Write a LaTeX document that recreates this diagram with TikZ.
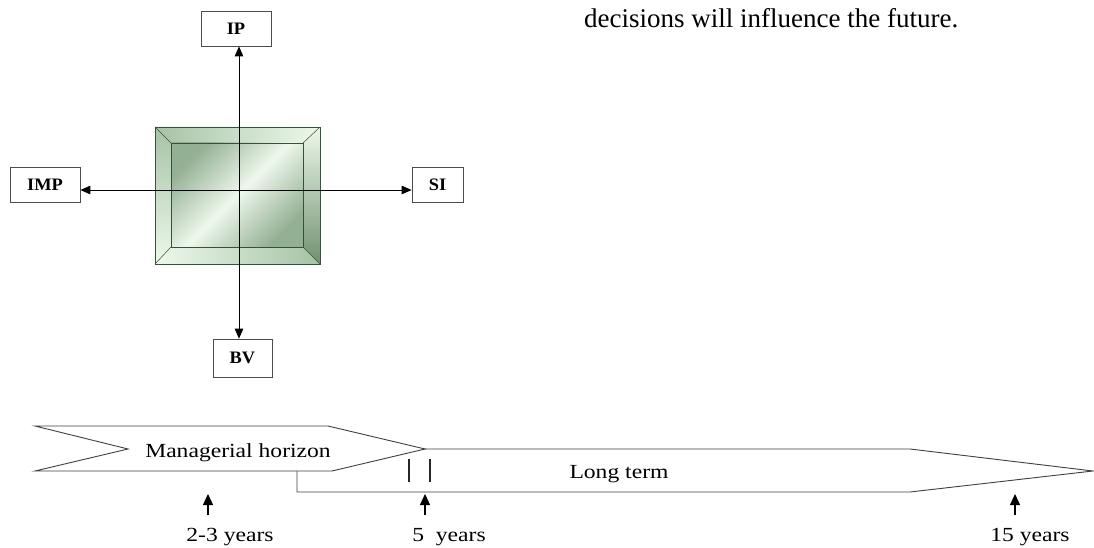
\documentclass[tikz,border=0pt]{standalone}
\usepackage{fontspec}
\setmainfont{Liberation Serif}
\newfontfamily\lblfont[FakeStretch=1.18]{Liberation Serif}
\newfontfamily\boxfont[FakeStretch=1.05]{Liberation Serif}
\usetikzlibrary{arrows.meta}
\definecolor{gdark}{RGB}{112,145,112}
\definecolor{ginner}{RGB}{148,176,148}
\definecolor{gmid}{RGB}{165,195,165}
\definecolor{glight}{RGB}{238,248,236}
\definecolor{gedge}{RGB}{55,80,55}
\tikzset{
  lbox/.style={draw=black!70, line width=0.7pt, fill=white, minimum width=#1,
    minimum height=35pt, inner sep=0pt, font=\boxfont\bfseries\fontsize{17.5}{17.5}\selectfont},
  conn/.style={draw=black, line width=0.8pt,
    {Triangle[length=10pt,width=8.5pt]}-{Triangle[length=10pt,width=8.5pt]}},
  tick/.style={draw=black, line width=1.2pt, -{Triangle[length=11pt,width=10pt]}},
  shapeline/.style={draw=black!75, line width=0.9pt, fill=white},
  tl/.style={font=\lblfont\fontsize{20}{20}\selectfont, text=black, inner sep=0pt, anchor=base},
  bar/.style={draw=black!85, line width=1.7pt}
}
\begin{document}
\begin{tikzpicture}[x=1pt,y=-1pt]
\useasboundingbox (0,0) rectangle (1094,548);

% ---- text top right
\node[anchor=base west, inner sep=0pt, font=\fontsize{27}{27}\selectfont] (dec) at (584,28) {decisions will influence the future.};
\node[anchor=base west, inner sep=0pt, font=\fontsize{27}{27}\selectfont] (pp) at (1044,-5.5) {p};

% ---- bevelled green box
\shade[left color=gmid, right color=glight] (155,127) -- (320,127) -- (303,143) -- (171,143) -- cycle;
\shade[top color=gmid, bottom color=glight] (155,127) -- (171,143) -- (171,247) -- (155,264) -- cycle;
\shade[top color=glight, bottom color=gdark] (320,127) -- (303,143) -- (303,247) -- (320,264) -- cycle;
\shade[left color=glight, right color=gmid] (155,264) -- (171,247) -- (303,247) -- (320,264) -- cycle;
\shade[top color=ginner, bottom color=ginner, middle color=glight, shading angle=45] (171,143) rectangle (303,247);
\draw[gedge, line width=0.7pt] (155,127) rectangle (320,264);
\draw[gedge, line width=0.7pt] (171,143) rectangle (303,247);
\draw[gedge, line width=0.5pt] (155,127) -- (171,143) (320,127) -- (303,143)
  (320,264) -- (303,247) (155,264) -- (171,247);

% ---- boxes
\coordinate (c) at (239,190);
\node[lbox=70pt] (IP) at (236,28.5) {IP};
\node[lbox=70pt] (IMP) at (45,184.5) {IMP};
\node[lbox=51pt] (SI) at (437.5,184.5) {SI};
\node[lbox=59pt, minimum height=38pt] (BV) at (242.5,358) {BV};

\draw[conn] (IP.south -| c) -- (BV.north -| c);
\draw[conn] (IMP.east |- c) -- (SI.west |- c);

% ---- timeline
\draw[shapeline] (297,449) -- (910,449) -- (1093,471) -- (910,492) -- (297,492) -- cycle;
\draw[shapeline] (35,426) -- (328,426) -- (425,449) -- (332,471) -- (35,471) -- (128,449) -- cycle;
\node[tl] (mh) at (238,457) {Managerial horizon};
\node[tl] (lt) at (619,478) {Long term};
\draw[bar] (409,459) -- (409,482);
\draw[bar] (430,459) -- (430,482);

\node[tl] (y23) at (230,541) {2-3 years};
\node[tl] (y5) at (449,541) {5\ \ years};
\node[tl] (y15) at (1030,541) {15 years};
\coordinate (a1) at (208,515);
\coordinate (a2) at (425,515);
\coordinate (a3) at (1015,515);
\draw[tick] (a1) -- ++(0,-21);
\draw[tick] (a2) -- ++(0,-21);
\draw[tick] (a3) -- ++(0,-21);
\end{tikzpicture}
\end{document}
